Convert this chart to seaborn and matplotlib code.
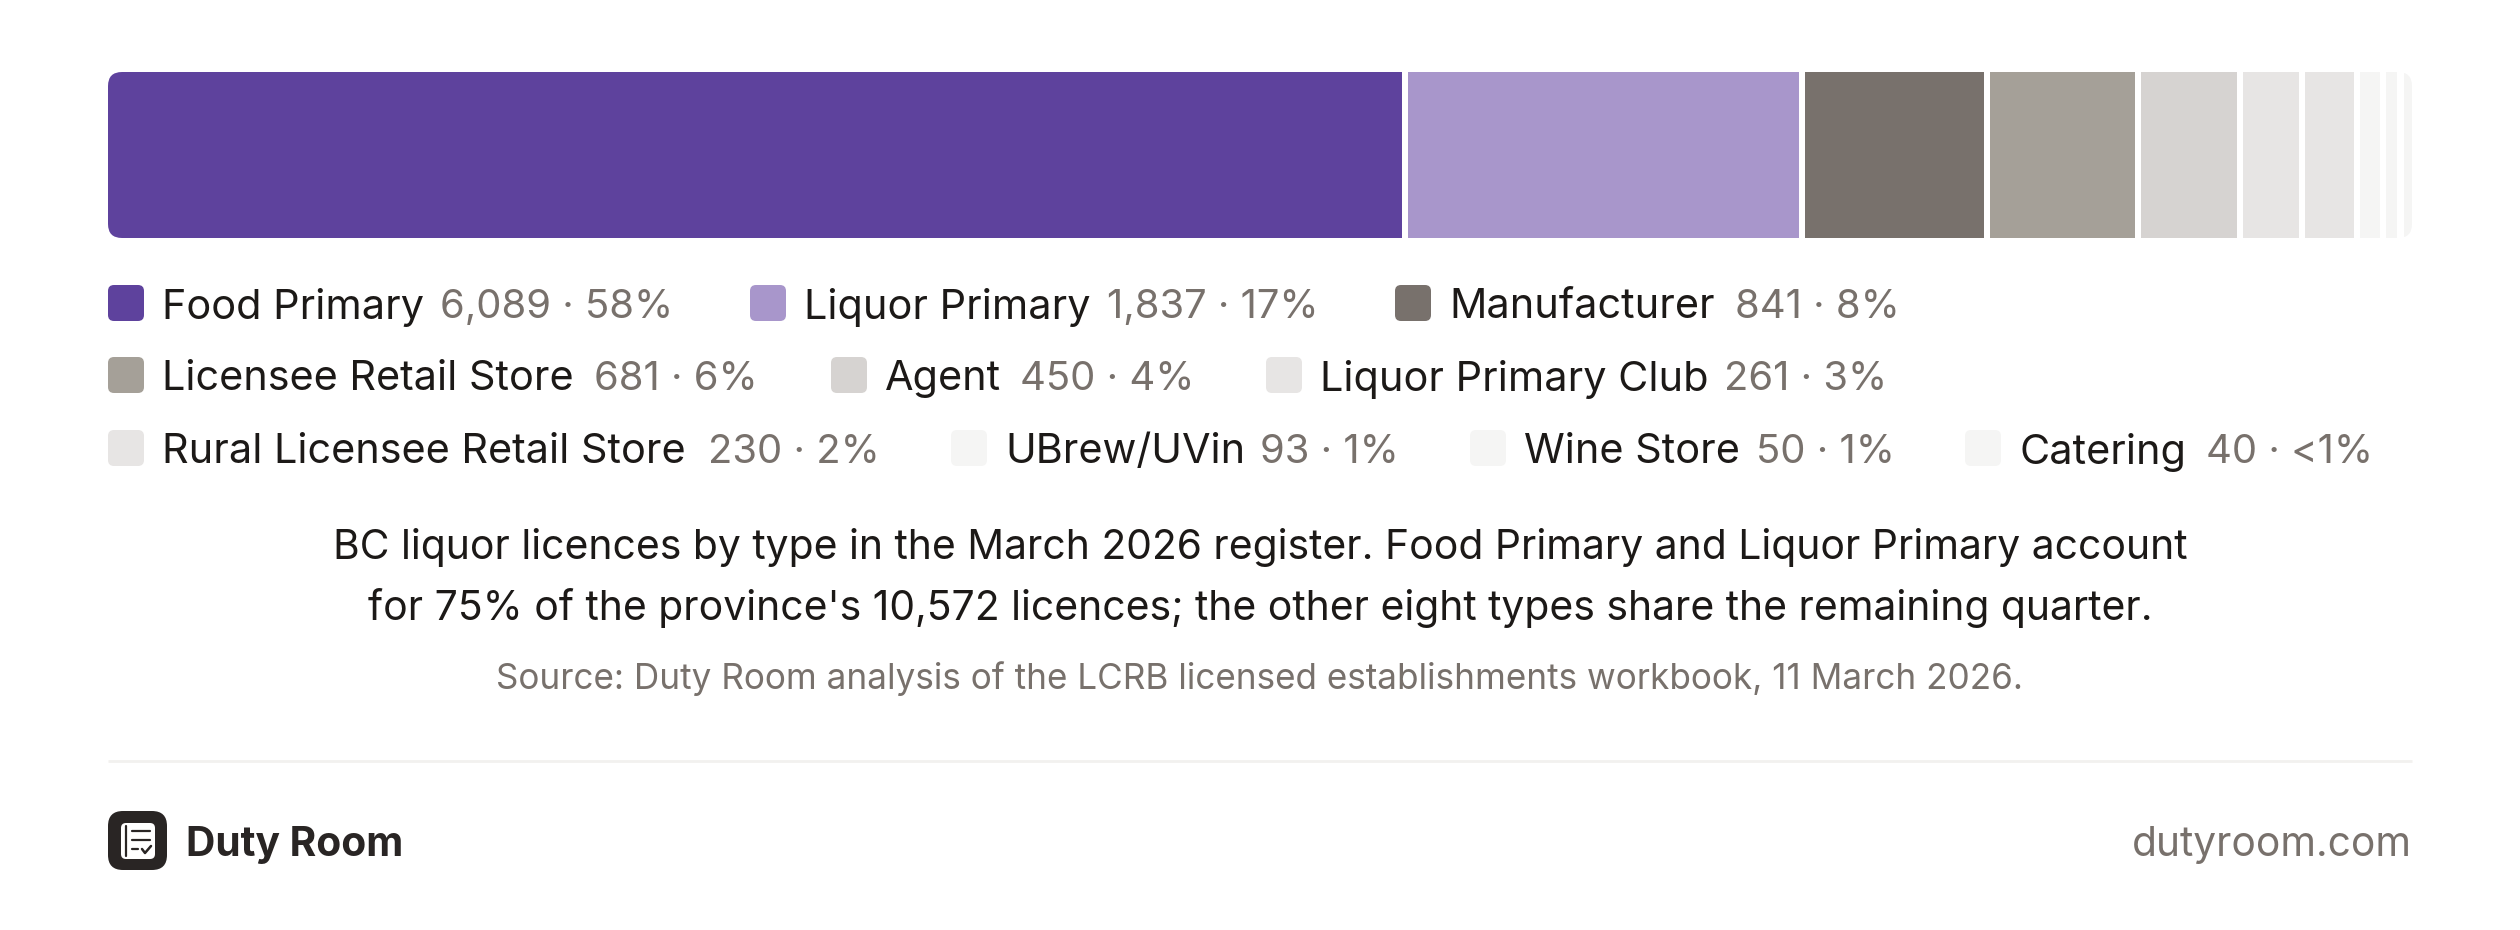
import matplotlib
matplotlib.use("Agg")
import matplotlib.pyplot as plt
from matplotlib.patches import FancyBboxPatch
from matplotlib.transforms import Affine2D
import seaborn as sns
import pandas as pd

sns.set_theme(style="white")
plt.rcParams["font.family"] = ["Inter", "DejaVu Sans"]

# data
tipos = ["Food Primary", "Liquor Primary", "Manufacturer", "Licensee Retail Store", "Agent",
         "Liquor Primary Club", "Rural Licensee Retail Store", "UBrew/UVin", "Wine Store", "Catering"]
licencas = [6089, 1837, 841, 681, 450, 261, 230, 93, 50, 40]
rotulos = ["6,089 · 58%", "1,837 · 17%", "841 · 8%", "681 · 6%", "450 · 4%",
           "261 · 3%", "230 · 2%", "93 · 1%", "50 · 1%", "40 · <1%"]
cores = ["#5e429d", "#a896cb", "#78716c", "#a5a098", "#d6d3d1",
         "#e7e5e4", "#e7e5e4", "#f5f5f4", "#f5f5f4", "#f5f5f4"]

TINTA = "#1c1917"
CINZA = "#78716c"
W, H = 2520, 930

# posicoes da legenda em pixels: linha, x do quadrado, x do valor
y_linhas = [303, 375, 448]
linha_item = [0, 0, 0, 1, 1, 1, 2, 2, 2, 2]
x_quadrado = [108, 750, 1395, 108, 831, 1266, 108, 951, 1470, 1965]
x_valor = [440, 1107, 1735, 594, 1020, 1724, 708, 1260, 1756, 2206]

fig = plt.figure(figsize=(W / 100, H / 100), dpi=100, facecolor="white")

# barra empilhada
ax = fig.add_axes([108 / W, 1 - 238 / H, 2304 / W, 166 / H])
df = pd.DataFrame({"tipo": tipos, "n": licencas, "cor": cores})
vao = 6.4 * (sum(licencas) / (2304 - 9 * 6.4))
df["inicio"] = df["n"].cumsum().shift(fill_value=0) + vao * df.index
for _, row in df.iterrows():
    sns.barplot(x=[row["n"]], y=[0], left=[row["inicio"]], orient="h", native_scale=True,
                color=row["cor"], saturation=1, width=1, linewidth=0, ax=ax)
ax.set_xlim(0, sum(licencas) + 9 * vao)
ax.set_ylim(-0.5, 0.5)
ax.axis("off")

# cantos arredondados na barra
molde = FancyBboxPatch((0, 0), 2304, 166, boxstyle="round,pad=0,rounding_size=14",
                       transform=Affine2D().translate(108, H - 238),
                       facecolor="none", edgecolor="none")
for barra in ax.patches:
    barra.set_clip_path(molde)

# camada de texto em pixels
tx = fig.add_axes([0, 0, 1, 1], facecolor="none")
tx.set_xlim(0, W)
tx.set_ylim(H, 0)
tx.axis("off")

for i, tipo in enumerate(tipos):
    y = y_linhas[linha_item[i]]
    x = x_quadrado[i]
    tx.add_patch(FancyBboxPatch((x, y - 18), 36, 36, boxstyle="round,pad=0,rounding_size=6",
                                facecolor=cores[i], edgecolor="none"))
    tx.text(x + 54, y, tipo, fontsize=29.8, color=TINTA, va="center_baseline")
    tx.text(x_valor[i], y, rotulos[i], fontsize=28.8, color=CINZA, va="center_baseline")

tx.text(1260, 543, "BC liquor licences by type in the March 2026 register. Food Primary and Liquor Primary account",
        fontsize=29.4, color=TINTA, ha="center", va="center_baseline")
tx.text(1260, 604, "for 75% of the province's 10,572 licences; the other eight types share the remaining quarter.",
        fontsize=29.4, color=TINTA, ha="center", va="center_baseline")
tx.text(1260, 675, "Source: Duty Room analysis of the LCRB licensed establishments workbook, 11 March 2026.",
        fontsize=25.25, color=CINZA, ha="center", va="center_baseline")

tx.plot([108, 2412], [761, 761], color="#f2f1ef", lw=2, solid_capstyle="butt")

# logo
tx.add_patch(FancyBboxPatch((108, 811), 59, 59, boxstyle="round,pad=0,rounding_size=15",
                            facecolor="#292524", edgecolor="none"))
tx.add_patch(FancyBboxPatch((121, 823), 34, 36, boxstyle="round,pad=0,rounding_size=5",
                            facecolor="white", edgecolor="none"))
tx.plot([126, 126], [826, 856], color="#292524", lw=1.6)
tx.plot([132, 150], [831, 831], color="#292524", lw=1.6)
tx.plot([132, 150], [840, 840], color="#292524", lw=1.6)
tx.plot([132, 138], [849, 849], color="#292524", lw=1.6)
tx.plot([142, 145, 151], [849, 853, 846], color="#292524", lw=1.8)

tx.text(186, 841, "Duty Room", fontsize=29.3, fontweight="bold", color="#292524", va="center_baseline")
tx.text(2412, 841, "dutyroom.com", fontsize=29.3, color=CINZA, ha="right", va="center_baseline")

fig.savefig("out.png", dpi=100, facecolor="white")
